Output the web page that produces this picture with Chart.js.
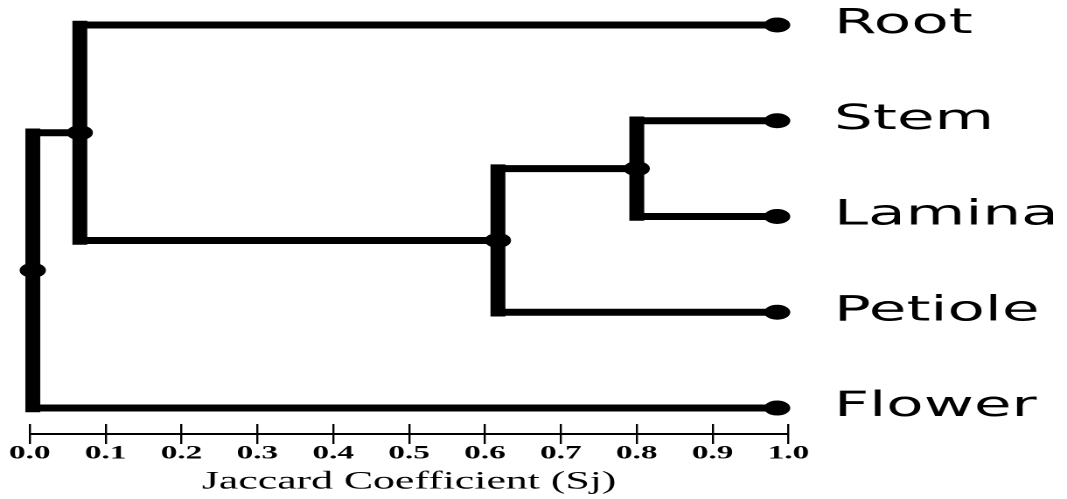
<!DOCTYPE html>
<html>
<head>
<meta charset="utf-8">
<script src="https://cdn.jsdelivr.net/npm/chart.js@4"></script>
<style>
  html, body { margin: 0; padding: 0; background: #fff; overflow: hidden; }
  #wrap { width: 610px; height: 499px; transform: scaleX(1.7492); transform-origin: 0 0; }
</style>
</head>
<body>
<div id="wrap"><canvas id="c" width="610" height="499"></canvas></div>
<script>
// ---- data ----
const leafNames   = ['Root', 'Stem', 'Lamina', 'Petiole', 'Flower'];
const leafPos     = [4, 3, 2, 1, 0];
const leafJoinX   = [0.066, 0.80, 0.80, 0.617, 0.004];  // Jaccard level where each leaf joins
const leafTipX    = 0.985;
const nodeX       = [0.80, 0.617, 0.066, 0.004];          // Jaccard level of each merge
const nodeTop     = [3, 2.5, 4, 2.875];
const nodeBottom  = [2, 1, 1.75, 0];
const nodeY       = [2.5, 1.75, 2.875, 1.4375];
const nodeJoinX   = [0.617, 0.066, 0.004, null];         // level of the parent merge
const xTickValues = [0.0, 0.1, 0.2, 0.3, 0.4, 0.5, 0.6, 0.7, 0.8, 0.9, 1.0];
const xTitle      = 'Jaccard Coefficient (Sj)';

// ---- build datasets ----
const datasets = [];
const dots = [];
leafPos.forEach((y) => dots.push({ x: leafTipX, y }));
nodeX.forEach((x, i) => dots.push({ x, y: nodeY[i] }));
datasets.push({
  data: dots, showLine: false, pointRadius: 7.5, pointHoverRadius: 7.5,
  backgroundColor: '#000', borderColor: '#000', pointBorderWidth: 0, clip: false
});
const seg = (pts, w, cap) => datasets.push({
  data: pts, showLine: true, pointRadius: 0, borderColor: '#000',
  borderWidth: w, borderCapStyle: cap, fill: false, clip: false
});
// vertical links
nodeX.forEach((x, i) => seg([{ x, y: nodeTop[i] }, { x, y: nodeBottom[i] }], 8.5, 'square'));
// horizontal links to leaves
leafPos.forEach((y, i) => seg([{ x: leafJoinX[i], y }, { x: leafTipX, y }], 7, 'butt'));
// horizontal links between merges
nodeX.forEach((x, i) => { if (nodeJoinX[i] !== null) seg([{ x: nodeJoinX[i], y: nodeY[i] }, { x, y: nodeY[i] }], 7, 'butt'); });
// x axis base line
const axisLineY = -0.272;
seg([{ x: xTickValues[0], y: axisLineY }, { x: xTickValues[xTickValues.length - 1], y: axisLineY }], 2, 'butt');

new Chart(document.getElementById('c'), {
  type: 'scatter',
  data: { datasets },
  options: {
    responsive: false,
    devicePixelRatio: 2,
    animation: false,
    events: [],
    layout: { padding: { left: 17, top: 25, right: 0, bottom: 0 } },
    plugins: { legend: { display: false }, tooltip: { enabled: false } },
    scales: {
      x: {
        type: 'linear', min: 0, max: 1,
        afterBuildTicks: (s) => { s.ticks = xTickValues.map((v) => ({ value: v })); },
        afterFit: (s) => { s.height = 75; s.paddingLeft = 0; s.paddingRight = 0; },
        border: { display: false },
        grid: { display: true, drawOnChartArea: false, drawTicks: true, tickLength: 20, color: '#000', lineWidth: 1.2 },
        ticks: {
          autoSkip: false, maxRotation: 0, padding: -2, color: '#000',
          font: { family: 'Liberation Serif', size: 19, weight: 'bold' },
          callback: (v) => Number(v).toFixed(1)
        },
        title: {
          display: true, text: xTitle, color: '#000',
          font: { family: 'Liberation Serif', size: 25, weight: 'normal' },
          padding: { top: 0, bottom: 2 }
        }
      },
      y: {
        type: 'linear', position: 'right', min: -0.167, max: 4,
        afterBuildTicks: (s) => { s.ticks = leafPos.map((v) => ({ value: v })); },
        afterFit: (s) => { s.width = 159.2; s.paddingTop = 0; s.paddingBottom = 0; },
        border: { display: false },
        grid: { display: false, drawTicks: false },
        ticks: {
          autoSkip: false, padding: 26, labelOffset: -1, color: '#000',
          font: { family: 'DejaVu Sans', size: 35, weight: 'normal' },
          callback: (v) => leafNames[leafPos.indexOf(v)]
        }
      }
    }
  }
});
</script>
</body>
</html>
